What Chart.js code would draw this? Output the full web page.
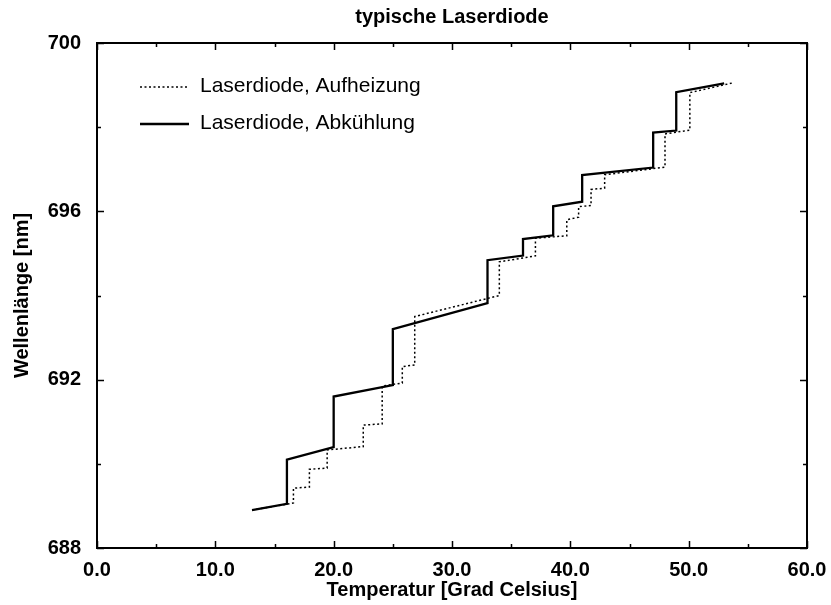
<!DOCTYPE html>
<html>
<head>
<meta charset="utf-8">
<script src="https://cdn.jsdelivr.net/npm/chart.js@4/dist/chart.umd.min.js"></script>
<style>
  html, body { margin: 0; padding: 0; background: #fff; }
  #wrap { width: 831px; height: 605px; }
</style>
</head>
<body>
<div id="wrap"><canvas id="c" width="831" height="605"></canvas></div>
<script>
// Laserdiode, Aufheizung (dotted)
const heatX = [13.1, 16.6, 16.6, 17.95, 17.95, 19.45, 19.45, 22.5, 22.5, 24.1, 24.1, 25.8, 25.8, 26.85, 26.85, 34.0, 34.0, 37.05, 37.05, 39.7, 39.7, 40.7, 40.7, 41.75, 41.75, 42.9, 42.9, 48.0, 48.0, 50.1, 50.1, 53.7];
const heatY = [688.9, 689.07, 689.42, 689.45, 689.87, 689.9, 690.33, 690.41, 690.92, 690.95, 691.85, 691.92, 692.31, 692.35, 693.5, 694.0, 694.8, 694.94, 695.36, 695.42, 695.8, 695.86, 696.11, 696.14, 696.52, 696.55, 696.87, 697.05, 697.84, 697.93, 698.82, 699.05];
// Laserdiode, Abkühlung (solid)
const coolX = [13.1, 16.05, 16.05, 20.0, 20.0, 25.0, 25.0, 33.0, 33.0, 36.0, 36.0, 38.55, 38.55, 41.0, 41.0, 47.0, 47.0, 48.95, 48.95, 53.0];
const coolY = [688.9, 689.05, 690.1, 690.4, 691.6, 691.87, 693.2, 693.82, 694.84, 694.95, 695.34, 695.43, 696.12, 696.23, 696.86, 697.04, 697.87, 697.92, 698.83, 699.04];

const seriesLabels = ['Laserdiode, Aufheizung', 'Laserdiode, Abkühlung'];
const chartTitle = 'typische Laserdiode';
const xTitle = 'Temperatur [Grad Celsius]';
const yTitle = 'Wellenlänge [nm]';
const xMajorTicks = [0, 10, 20, 30, 40, 50, 60];
const xMinorTicks = [5, 15, 25, 35, 45, 55];
const yMajorTicks = [688, 692, 696, 700];
const yMinorTicks = [690, 694, 698];

const toPts = (xs, ys) => xs.map((x, i) => ({ x: x, y: ys[i] }));

const frameTicks = {
  id: 'frameTicks',
  afterDatasetsDraw(chart) {
    const { ctx, chartArea: a, scales } = chart;
    const xs = scales.x, ys = scales.y;
    ctx.save();
    ctx.strokeStyle = '#000';
    ctx.lineWidth = 1.5;
    ctx.beginPath();
    const xt = (v, len) => {
      const p = Math.round(xs.getPixelForValue(v)) + 0.5;
      ctx.moveTo(p, a.bottom); ctx.lineTo(p, a.bottom - len);
      ctx.moveTo(p, a.top); ctx.lineTo(p, a.top + len);
    };
    const yt = (v, len) => {
      const p = Math.round(ys.getPixelForValue(v)) + 0.5;
      ctx.moveTo(a.left, p); ctx.lineTo(a.left + len, p);
      ctx.moveTo(a.right, p); ctx.lineTo(a.right - len, p);
    };
    xMajorTicks.forEach(v => xt(v, 7));
    xMinorTicks.forEach(v => xt(v, 4));
    yMajorTicks.forEach(v => yt(v, 7));
    yMinorTicks.forEach(v => yt(v, 4));
    ctx.stroke();
    ctx.lineWidth = 2;
    ctx.strokeRect(a.left, a.top, a.right - a.left, a.bottom - a.top);

    // legend inside the plot area
    const ds = chart.data.datasets;
    const rows = [87, 124];
    ds.forEach((d, i) => {
      ctx.beginPath();
      ctx.lineWidth = d.borderWidth;
      ctx.setLineDash(d.borderDash || []);
      ctx.moveTo(140, rows[i]);
      ctx.lineTo(189, rows[i]);
      ctx.stroke();
      ctx.setLineDash([]);
      ctx.fillStyle = '#000';
      ctx.font = '21px "Liberation Sans", Arial, sans-serif';
      ctx.textBaseline = 'middle';
      ctx.textAlign = 'left';
      ctx.fillText(d.label, 200, rows[i] - 1);
    });
    ctx.restore();
  }
};

new Chart(document.getElementById('c'), {
  type: 'scatter',
  data: {
    datasets: [
      {
        label: seriesLabels[0],
        data: toPts(heatX, heatY),
        showLine: true,
        borderColor: '#000',
        borderWidth: 1.5,
        borderDash: [2, 2.5],
        pointRadius: 0,
        tension: 0,
        fill: false
      },
      {
        label: seriesLabels[1],
        data: toPts(coolX, coolY),
        showLine: true,
        borderColor: '#000',
        borderWidth: 2.3,
        pointRadius: 0,
        tension: 0,
        fill: false
      }
    ]
  },
  options: {
    responsive: false,
    animation: false,
    events: [],
    layout: { padding: { left: 0, right: 24, top: 0, bottom: 0 } },
    plugins: {
      legend: { display: false },
      tooltip: { enabled: false },
      title: {
        display: true,
        fullSize: false,
        text: chartTitle,
        color: '#000',
        font: { family: '"Liberation Sans", Arial, sans-serif', size: 20, weight: 'bold', lineHeight: 1.2 },
        padding: { top: 5, bottom: 14 }
      }
    },
    scales: {
      x: {
        type: 'linear',
        min: 0, max: 60,
        afterBuildTicks: (s) => { s.ticks = xMajorTicks.map(v => ({ value: v })); },
        afterFit: (s) => { s.height = 57; },
        grid: { display: false },
        border: { display: false },
        ticks: {
          color: '#000',
          padding: 2,
          maxRotation: 0,
          autoSkip: false,
          font: { family: '"Liberation Sans", Arial, sans-serif', size: 20, weight: 'bold' },
          callback: (v) => Number(v).toFixed(1)
        },
        title: {
          display: true,
          text: xTitle,
          color: '#000',
          font: { family: '"Liberation Sans", Arial, sans-serif', size: 20, weight: 'bold', lineHeight: 1.2 },
          padding: { top: 0, bottom: 3 }
        }
      },
      y: {
        type: 'linear',
        min: 688, max: 700,
        afterBuildTicks: (s) => { s.ticks = yMajorTicks.map(v => ({ value: v })); },
        afterFit: (s) => { s.width = 97; },
        grid: { display: false },
        border: { display: false },
        ticks: {
          color: '#000',
          padding: 8,
          autoSkip: false,
          font: { family: '"Liberation Sans", Arial, sans-serif', size: 20, weight: 'bold' },
          callback: (v) => String(v)
        },
        title: {
          display: true,
          text: yTitle,
          color: '#000',
          font: { family: '"Liberation Sans", Arial, sans-serif', size: 20, weight: 'bold', lineHeight: 1.2 },
          padding: { top: 10, bottom: 0 }
        }
      }
    }
  },
  plugins: [frameTicks]
});
</script>
</body>
</html>
